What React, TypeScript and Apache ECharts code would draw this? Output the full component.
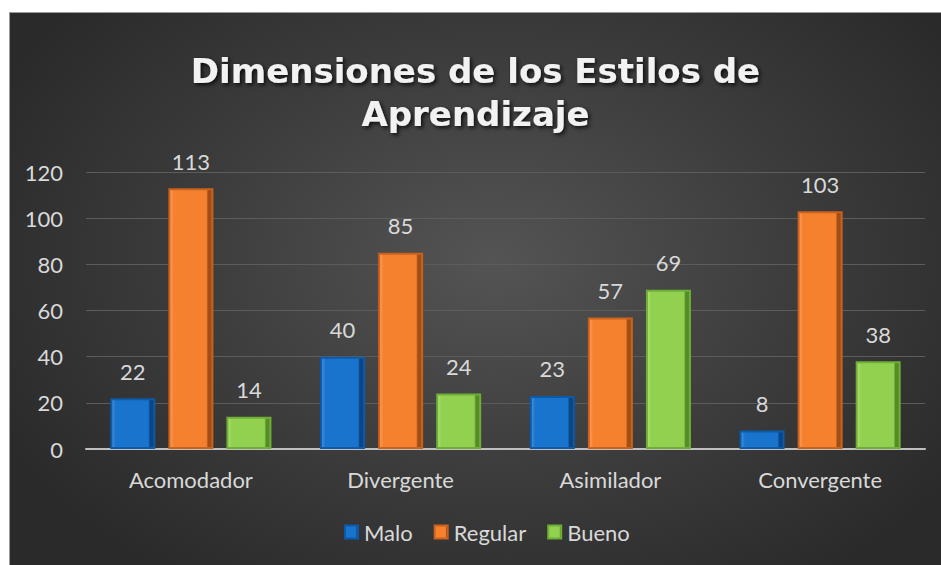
import React, { useEffect, useRef } from "react";
import * as echarts from "echarts";

const categories = ["Acomodador", "Divergente", "Asimilador", "Convergente"];
const seriesNames = ["Malo", "Regular", "Bueno"];
const malo = [22, 40, 23, 8];
const regular = [113, 85, 57, 103];
const bueno = [14, 24, 69, 38];
const yTicks = { min: 0, max: 120, interval: 20 };

const fills = [
  { main: "#1874cd", light: "#4a98e0", dark: "#0a4585", edge: "#0d5aa8" },
  { main: "#f5812e", light: "#ffa060", dark: "#a24d16", edge: "#c9621f" },
  { main: "#92d050", light: "#b0e474", dark: "#558c27", edge: "#6fae36" },
];

const FONT = "Lato";

export default function App() {
  const ref = useRef<HTMLDivElement>(null);
  useEffect(() => {
    if (!ref.current) return;
    const chart = echarts.init(ref.current, undefined, { renderer: "svg" });
    const values = [malo, regular, bueno];
    const series = seriesNames.map((name, i) => ({
      name,
      type: "bar" as const,
      data: values[i],
      barWidth: 45,
      barGap: "29%",
      itemStyle: {
        color: {
          type: "linear",
          x: 0, y: 0, x2: 1, y2: 0,
          colorStops: [
            { offset: 0, color: fills[i].light },
            { offset: 0.1, color: fills[i].main },
            { offset: 0.86, color: fills[i].main },
            { offset: 0.9, color: fills[i].dark },
            { offset: 1, color: fills[i].dark },
          ],
        },
        borderColor: fills[i].edge,
        borderWidth: 2,
      },
      label: {
        show: true,
        position: "top" as const,
        distance: 16,
        color: "#d9d9d9",
        fontSize: 22,
        fontFamily: FONT,
      },
    }));
    chart.setOption({
      animation: false,
      title: {
        text: "Dimensiones de los Estilos de\nAprendizaje",
        left: "center",
        top: 31,
        textStyle: {
          color: "#f2f2f2",
          fontSize: 34,
          fontWeight: "bold",
          fontFamily: "DejaVu Sans",
          lineHeight: 43,
          textShadowColor: "rgba(0,0,0,0.8)",
          textShadowBlur: 4,
          textShadowOffsetX: 2,
          textShadowOffsetY: 2,
        },
      },
      legend: {
        data: seriesNames,
        bottom: 17,
        left: 329,
        itemWidth: 13,
        itemHeight: 13,
        itemGap: 21,
        icon: "rect",
        textStyle: { color: "#d9d9d9", fontSize: 22, fontFamily: FONT, padding: [0, 0, 0, 1] },
      },
      grid: { left: 76, right: 16, top: 159, bottom: 116 },
      xAxis: {
        type: "category",
        data: categories,
        axisLine: { lineStyle: { color: "#bfbfbf", width: 2 } },
        axisTick: { show: false },
        axisLabel: { color: "#d9d9d9", fontSize: 22, fontFamily: FONT, margin: 19 },
      },
      yAxis: {
        type: "value",
        min: yTicks.min,
        max: yTicks.max,
        interval: yTicks.interval,
        axisLine: { show: false },
        axisTick: { show: false },
        axisLabel: { color: "#d9d9d9", fontSize: 22, fontFamily: FONT, margin: 23 },
        splitLine: { lineStyle: { color: "#5c5c5c", width: 1 } },
      },
      series,
    });
    return () => chart.dispose();
  }, []);
  return (
    <div style={{ position: "absolute", left: 0, top: 0, width: 941, height: 565, background: "#fff" }}>
      <div
        style={{
          position: "absolute",
          left: 9,
          top: 12,
          width: 932,
          height: 553,
          borderTop: "1px solid #9a9a9a",
          borderLeft: "1px solid #9a9a9a",
          boxSizing: "border-box",
          background: "radial-gradient(ellipse 60% 70% at 52% 45%, #545454 0%, #3c3c3c 55%, #2a2a2a 100%)",
        }}
      >
        <div ref={ref} style={{ width: 931, height: 552 }} />
      </div>
    </div>
  );
}
